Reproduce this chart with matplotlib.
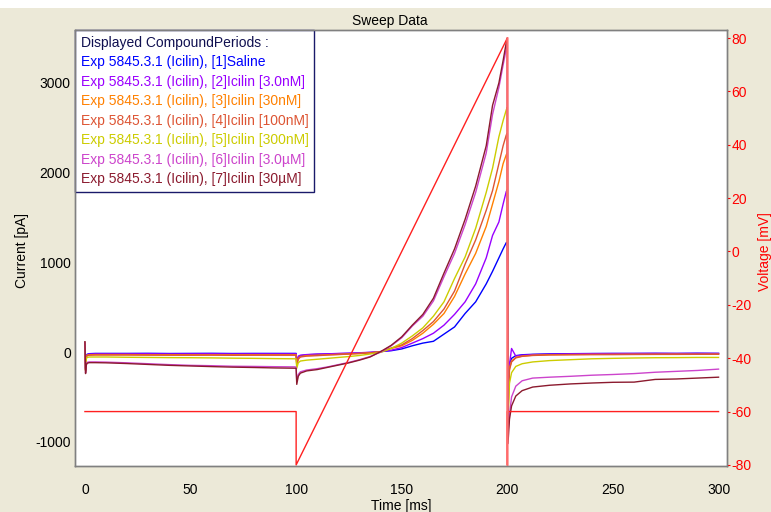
import matplotlib
matplotlib.use("Agg")
import matplotlib.pyplot as plt
from matplotlib.lines import Line2D
from matplotlib.patches import Rectangle

# ---------------- data ----------------
time_ms = [0, 0.3, 0.6, 1, 2, 5, 10, 20, 30, 40, 50, 60, 70, 80, 90,
           99.5, 100, 100.3, 101, 102, 105, 110, 115, 120, 125, 130, 135, 140,
           145, 150, 155, 160, 165, 170, 175, 180, 185, 190, 193, 196, 198, 199.5, 200,
           200.3, 201, 202, 204, 207, 212, 220, 230, 240, 250, 260, 270, 280, 290, 300]

labels = ["Exp 5845.3.1 (Icilin), [1]Saline",
          "Exp 5845.3.1 (Icilin), [2]Icilin [3.0nM]",
          "Exp 5845.3.1 (Icilin), [3]Icilin [30nM]",
          "Exp 5845.3.1 (Icilin), [4]Icilin [100nM]",
          "Exp 5845.3.1 (Icilin), [5]Icilin [300nM]",
          "Exp 5845.3.1 (Icilin), [6]Icilin [3.0\u00b5M]",
          "Exp 5845.3.1 (Icilin), [7]Icilin [30\u00b5M]"]

saline = ([90, -180, -50, -25, -18, -15, -15, -15, -14, -16, -15, -14, -16, -15, -15]
          + [-15, -15, -110, -60, -40, -30, -25, -20, -18, -15, -10, -5, 5]
          + [15, 35, 70, 100, 120, 200, 280, 430, 560, 760, 900, 1050, 1150, 1220, 1225]
          + [-500, -130, -70, -40, -30, -25, -20, -18, -16, -15, -15, -14, -15, -13, -15])
icilin_3nM = ([100, -190, -55, -30, -22, -20, -20, -20, -19, -21, -20, -19, -21, -20, -20]
              + [-20, -20, -120, -45, -35, -28, -22, -20, -15, -12, -8, -2, 5]
              + [20, 50, 100, 150, 210, 300, 420, 560, 760, 1050, 1300, 1450, 1650, 1790, 1810]
              + [-550, -140, 40, -45, -35, -28, -24, -20, -18, -17, -16, -15, -16, -15, -15])
icilin_30nM = ([95, -200, -60, -35, -30, -28, -28, -28, -30, -29, -30, -31, -30, -30, -30]
               + [-30, -30, -140, -70, -50, -40, -35, -30, -25, -20, -15, -8, 3]
               + [40, 70, 130, 210, 310, 430, 620, 870, 1100, 1400, 1650, 1900, 2100, 2200, 2220]
               + [-650, -180, -100, -60, -45, -35, -30, -28, -27, -26, -25, -25, -24, -25, -24])
icilin_100nM = ([105, -200, -65, -40, -35, -33, -33, -33, -34, -35, -35, -34, -36, -35, -35]
                + [-35, -35, -150, -80, -55, -45, -40, -33, -28, -22, -17, -10, 3]
                + [45, 80, 150, 240, 340, 480, 680, 980, 1250, 1580, 1800, 2100, 2300, 2420, 2440]
                + [-700, -200, -110, -65, -48, -38, -32, -30, -28, -28, -27, -26, -26, -25, -25])
icilin_300nM = ([110, -210, -80, -60, -55, -55, -55, -58, -60, -62, -63, -65, -68, -70, -73]
                + [-75, -78, -180, -120, -100, -90, -80, -70, -60, -50, -38, -22, -3]
                + [40, 100, 180, 270, 400, 560, 820, 1060, 1380, 1780, 2050, 2400, 2580, 2700, 2730]
                + [-800, -350, -230, -160, -130, -110, -95, -85, -75, -70, -66, -63, -62, -60, -60])
icilin_3uM = ([110, -230, -140, -115, -110, -110, -112, -120, -130, -140, -148, -152, -158, -160, -163]
              + [-165, -168, -330, -250, -220, -200, -185, -165, -140, -115, -85, -50, 0]
              + [70, 160, 290, 400, 570, 840, 1100, 1420, 1780, 2220, 2650, 2950, 3200, 3380, 3420]
              + [-900, -700, -500, -380, -320, -290, -280, -270, -258, -250, -240, -225, -215, -205, -190])
icilin_30uM = ([115, -240, -150, -125, -118, -118, -120, -128, -138, -148, -155, -162, -168, -172, -177]
               + [-180, -182, -360, -270, -235, -210, -195, -170, -145, -120, -90, -55, 5]
               + [75, 170, 300, 420, 600, 880, 1150, 1480, 1850, 2300, 2750, 3000, 3250, 3450, 3500]
               + [-1020, -750, -600, -490, -430, -390, -370, -355, -345, -337, -335, -305, -300, -290, -280])

currents = [saline, icilin_3nM, icilin_30nM, icilin_100nM, icilin_300nM, icilin_3uM, icilin_30uM]
colors = ["#0000FF", "#9900FF", "#FF8000", "#DD5533", "#CCCC00", "#CC44CC", "#8B1A2E"]

volt_t = [0, 100, 100, 200, 200, 200, 300]
volt_v = [-60, -60, -80, 80, -80, -60, -60]

current_ticks = [-1000, 0, 1000, 2000, 3000]
voltage_ticks = [-80, -60, -40, -20, 0, 20, 40, 60, 80]
time_ticks = [0, 50, 100, 150, 200, 250, 300]

# ---------------- figure ----------------
plt.rcParams['font.family'] = ['Liberation Sans', 'DejaVu Sans']
plt.rcParams['axes.unicode_minus'] = False
W, H = 771, 512
FS = 10
fig = plt.figure(figsize=(W / 100, H / 100), dpi=100, facecolor="#ECE9D8")
fig.patches.append(Rectangle((0, 1 - 8 / H), 1, 8 / H, transform=fig.transFigure,
                             facecolor="white", edgecolor="none"))

L, R, T, B = 75, 727, 30, 466
ax = fig.add_axes([L / W, 1 - B / H, (R - L) / W, (B - T) / H])
ax.set_facecolor("white")

for y, c, lab in zip(currents, colors, labels):
    ax.plot(time_ms, y, color=c, lw=1.0, label=lab)

ax.set_xlim(-4.7, 304)
ax.set_ylim(-1270, 3590)
ax.set_xticks(time_ticks)
ax.set_yticks(current_ticks)
ax.tick_params(axis='x', length=0, pad=12, labelsize=FS)
ax.tick_params(axis='y', length=0, pad=3, labelsize=FS)
for s in ax.spines.values():
    s.set_color("#808080")
    s.set_linewidth(1.0)

ax2 = ax.twinx()
ax2.plot(volt_t, volt_v, color="#FF2020", lw=1.0)
ax2.plot(volt_t[3:5], volt_v[3:5], color="#FF8080", lw=1.8, alpha=0.8)
ax2.set_ylim(-80.4, 83)
ax2.set_yticks(voltage_ticks)
ax2.tick_params(axis='y', colors="#FF0000", length=2, pad=1, labelsize=FS)
for s in ax2.spines.values():
    s.set_color("#808080")
    s.set_linewidth(1.0)

# legend-like box
handles = [Line2D([], [], color=c, lw=0) for c in colors]
leg = ax.legend(handles, labels, loc='upper left', bbox_to_anchor=(0, 1),
                borderaxespad=0, handlelength=0, handletextpad=0,
                labelcolor=colors, title="Displayed CompoundPeriods :",
                alignment='left', fancybox=False, framealpha=1,
                edgecolor="#1A1A6A", fontsize=10, title_fontsize=10,
                labelspacing=0.4, borderpad=0.4)
leg.get_title().set_color("#101050")
leg.get_frame().set_linewidth(1.0)
leg.set_zorder(5)

fig.text(390 / W, 1 - 21 / H, "Sweep Data", ha='center', va='center', fontsize=FS)
fig.text(22 / W, 1 - 250 / H, "Current [pA]", ha='center', va='center',
         rotation=90, fontsize=FS)
fig.text(765 / W, 1 - 252 / H, "Voltage [mV]", ha='center', va='center',
         rotation=90, fontsize=FS, color="#FF0000")
fig.text(401 / W, 1 - 506 / H, "Time [ms]", ha='center', va='center', fontsize=FS)

fig.savefig("out.png", dpi=100, facecolor=fig.get_facecolor())
